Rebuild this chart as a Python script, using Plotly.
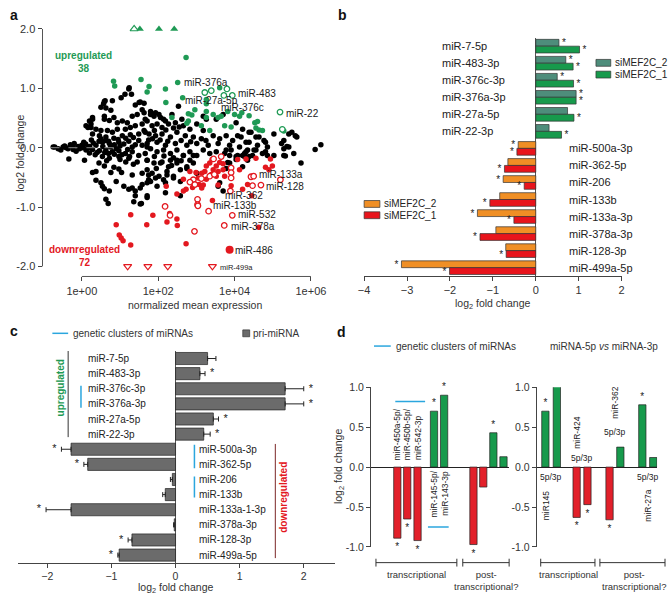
import plotly.graph_objects as go

W, H = 669, 600
FONT = "Liberation Sans, Arial, Helvetica, sans-serif"
INK = "#222222"
GREEN = "#1f9a55"
RED = "#e3181f"
BLUE = "#2ba6de"

# ---------------- a: MA plot  (log10 normalized mean expression, log2 fold change)
A_BLACK = [
    (1.23, 0.99), (1.13, 0.90), (1.03, 0.84), (0.80, 0.79), (0.61, 0.79), (0.57, 0.74), (0.50, 0.68),
    (0.63, 0.67), (0.76, 0.63), (1.40, 0.72), (1.53, 0.77), (1.58, 0.64), (1.45, 0.56), (0.28, 0.51),
    (0.20, 0.45), (0.59, 0.53), (0.59, 0.48), (0.72, 0.46), (0.84, 0.51), (0.93, 0.42), (1.06, 0.45),
    (1.19, 0.42), (1.32, 0.53), (0.11, 0.37), (0.24, 0.34), (0.37, 0.31), (0.50, 0.29), (0.67, 0.29),
    (0.80, 0.26), (0.93, 0.31), (1.14, 0.31), (1.27, 0.34), (1.40, 0.37), (1.58, 0.40), (1.66, 0.48),
    (0.28, 0.23), (0.46, 0.20), (0.63, 0.18), (0.84, 0.16), (1.06, 0.20), (1.27, 0.22), (1.49, 0.23),
    (1.66, 0.26), (0.54, 0.09), (0.72, 0.07), (0.97, 0.09), (1.23, 0.11), (1.49, 0.12), (1.75, 0.13),
    (1.63, 0.75), (1.24, 1.01), (1.30, 0.90), (1.50, 0.76), (0.59, 0.78), (0.28, 0.48), (0.24, 0.40),
    (0.16, 0.34),
    (-0.75, 0.01), (-0.71, 0.01), (-0.62, -0.02), (-0.49, 0.01), (-0.41, 0.00), (-0.36, -0.02),
    (-0.23, 0.01), (-0.23, -0.03), (-0.10, 0.02), (-0.06, -0.02), (0.03, 0.00), (0.11, -0.04),
    (0.20, 0.02), (0.28, -0.03), (0.37, 0.04), (0.46, -0.05), (0.63, -0.04), (0.80, -0.07),
    (0.97, -0.05), (1.14, -0.10), (1.32, -0.07), (1.32, 0.01), (1.49, -0.13), (1.58, 0.04),
    (1.66, -0.10), (0.10, 0.06), (0.30, 0.08), (0.45, 0.11), (0.62, 0.12), (0.85, 0.05), (1.00, 0.03),
    (1.10, 0.06), (1.40, 0.05), (0.55, 0.02), (0.75, 0.01), (0.90, -0.02), (1.20, -0.03), (0.40, -0.08),
    (0.70, -0.10), (1.05, -0.12), (1.25, -0.15), (-0.30, 0.05), (-0.15, -0.06), (0.00, 0.04), (0.15, -0.01),
    (-0.55, -0.04), (-0.45, 0.03), (-0.20, 0.07), (0.05, 0.09), (0.25, 0.13), (0.50, 0.15), (0.70, 0.11),
    (0.95, 0.14), (1.15, 0.16), (1.35, 0.17), (0.35, -0.12), (0.60, -0.08), (0.85, -0.11), (1.00, -0.20),
    (1.15, -0.24), (1.35, -0.28), (0.20, -0.09), (0.45, -0.26), (0.65, -0.22),
    (-0.34, -0.19), (0.07, -0.21), (0.54, -0.15), (0.72, -0.18), (0.97, -0.15), (1.23, -0.18),
    (1.45, -0.24), (1.71, -0.21), (0.59, -0.31), (0.84, -0.33), (0.97, -0.36), (0.76, -0.42),
    (1.04, -0.42), (0.37, -0.40), (0.28, -0.42), (1.32, -0.46), (1.58, -0.43), (1.75, -0.46),
    (0.37, -0.55), (0.50, -0.59), (0.54, -0.65), (0.59, -0.69), (0.72, -0.73), (0.90, -0.57),
    (1.10, -0.65), (1.32, -0.68), (1.40, -0.73), (1.58, -0.62), (1.75, -0.54), (0.63, -0.87),
    (0.69, -0.94), (1.36, -0.91), (1.56, -0.94), (1.71, -0.81), (1.53, -0.68), (1.40, -0.81),
    (1.53, -0.95), (1.23, -0.70),
    (2.53, 0.70), (1.63, 0.59), (1.80, 0.61), (1.89, 0.53), (2.02, 0.56), (2.14, 0.48), (1.71, 0.45),
    (1.84, 0.37), (1.97, 0.40), (2.10, 0.34), (2.27, 0.40), (2.45, 0.42), (2.62, 0.48), (2.66, 0.37),
    (2.83, 0.31), (3.01, 0.40), (3.18, 0.29), (1.63, 0.29), (1.76, 0.23), (1.93, 0.20), (2.10, 0.23),
    (2.32, 0.18), (2.49, 0.26), (2.71, 0.20), (2.92, 0.18), (3.13, 0.15), (3.44, 0.20), (3.61, 0.15),
    (3.78, 0.20), (3.95, 0.12), (4.17, 0.18), (1.71, 0.07), (1.97, 0.09), (2.19, 0.04), (2.45, 0.07),
    (2.75, 0.04), (3.01, 0.07), (3.31, 0.04), (3.57, 0.07), (3.87, 0.04), (4.13, 0.01), (4.30, 0.09),
    (1.80, 0.56), (1.93, 0.59), (2.06, 0.51), (2.19, 0.45), (2.36, 0.56), (3.18, 0.53), (3.26, 0.48),
    (3.52, 0.48), (3.70, 0.56), (4.04, 0.42), (4.21, 0.31), (4.08, 0.20), (4.43, 0.26), (4.64, 0.18),
    (4.81, 0.09), (1.85, 0.15), (2.05, 0.13), (2.25, 0.11), (2.60, 0.12), (2.85, 0.10), (3.25, 0.12),
    (1.90, 0.29), (2.20, 0.30), (2.40, 0.33), (2.55, 0.35),
    (1.71, 0.01), (1.80, -0.02), (1.97, -0.07), (2.14, -0.04), (2.32, -0.10), (2.49, -0.04),
    (2.66, -0.13), (2.83, -0.07), (3.01, -0.13), (3.18, -0.04), (3.35, -0.10), (3.52, -0.07),
    (3.74, -0.10), (3.91, -0.04), (4.08, -0.13), (4.26, -0.10), (1.71, -0.21), (1.89, -0.26),
    (2.10, -0.24), (2.27, -0.32), (2.49, -0.26), (2.75, -0.35), (2.92, -0.26), (3.01, -0.43),
    (1.71, -0.37), (1.84, -0.43), (2.02, -0.48), (2.23, -0.46), (2.40, -0.51), (2.58, -0.57),
    (1.80, -0.57), (1.97, -0.65), (2.19, -0.59), (3.61, -0.59), (3.57, -0.65), (3.82, -0.25),
    (4.04, -0.20), (4.21, -0.32), (1.71, -0.84), (2.19, -0.76), (2.58, -0.81), (4.34, -0.04),
    (4.56, -0.04), (4.21, -0.13), (4.04, -0.15), (3.87, -0.13), (3.78, -0.04), (4.38, -0.15),
    (2.06, -0.26), (2.23, -0.40), (2.40, -0.48), (2.58, -0.37), (2.75, -0.32), (2.83, -0.21),
    (2.92, -0.13), (2.66, -0.13), (2.49, -0.21), (2.32, -0.21), (2.14, -0.54), (1.93, -0.51),
    (1.71, -0.59), (3.78, -0.35), (3.87, -0.26), (3.70, -0.73), (1.90, -0.15), (2.15, -0.14),
    (2.40, -0.17), (2.60, -0.22), (1.95, -0.35), (2.35, -0.30),
    (4.38, 0.26), (4.56, 0.18), (4.77, 0.12), (5.03, 0.23), (4.86, 0.01), (4.60, 0.04), (4.38, 0.09),
    (4.30, -0.07), (4.51, -0.04), (4.73, -0.10), (4.81, -0.07), (4.47, -0.13), (4.26, -0.15),
    (4.34, -0.21), (5.29, 0.12), (5.23, 0.07), (5.29, -0.02), (5.37, 0.02), (5.42, 0.23), (5.50, 0.26),
    (5.59, 0.20), (5.63, 0.18), (5.29, -0.13), (5.33, -0.14), (5.55, -0.10), (5.74, -0.26),
    (6.11, -0.03), (6.26, 0.05), (5.42, 0.01), (5.03, -0.13), (4.86, -0.13),
]
A_GREEN = [
    (1.76, 1.03), (1.71, 0.94), (2.19, 0.99), (2.51, 1.10), (2.64, 0.84), (3.61, 1.01), (3.26, 0.81),
    (3.26, 0.74), (2.96, 0.64), (2.79, 0.57), (2.88, 0.55), (3.26, 0.61), (3.26, 0.51), (3.44, 0.56),
    (3.57, 0.51), (3.65, 0.53), (3.82, 0.61), (4.00, 0.56), (4.13, 0.53), (2.36, 0.51), (2.75, 0.41),
    (3.13, 0.37), (3.35, 0.29), (3.74, 0.37), (3.91, 0.35), (0.83, 1.12), (0.86, 1.04), (1.55, 1.15),
    (2.73, 1.52), (2.20, 0.76), (4.19, 0.59), (4.38, 0.54), (4.53, 0.42), (4.60, 0.44), (4.56, 0.33),
    (4.64, 0.30), (4.73, 0.29), (2.79, 0.45), (5.29, 0.28),
]
A_GREEN_OPEN = [(3.22, 0.93), (3.39, 0.96), (3.80, 0.99), (3.72, 0.88), (3.94, 0.88), (5.19, 0.60), (5.25, 0.31)]
A_RED = [
    (3.41, -0.20), (3.52, -0.31), (3.61, -0.25), (3.70, -0.27), (3.35, -0.26), (3.26, -0.31), (3.44, -0.37),
    (3.57, -0.40), (3.70, -0.37), (3.74, -0.48), (3.52, -0.48), (3.39, -0.45), (3.22, -0.40), (3.14, -0.43),
    (3.05, -0.51), (2.99, -0.42), (2.83, -0.40), (3.07, -0.62), (3.18, -0.63), (3.57, -0.63), (3.26, -0.53),
    (2.66, -0.53), (2.73, -0.70), (2.21, -0.65), (2.49, -0.78), (2.66, -0.73), (2.90, -0.67), (3.14, -0.68),
    (4.08, -0.20), (4.30, -0.19), (4.56, -0.18), (4.94, -0.19), (4.81, -0.33), (4.99, -0.31), (4.90, -0.37),
    (4.47, -0.48), (4.34, -0.62), (4.21, -0.70), (3.91, -0.64), (4.13, -0.37), (3.42, -0.89), (1.28, -1.13),
    (1.86, -1.14), (2.30, -1.11), (0.90, -1.30), (1.70, -1.30), (2.23, -1.25), (2.49, -1.20), (2.50, -1.31),
    (0.98, -1.47), (1.03, -1.52), (1.08, -1.57), (1.28, -1.64), (2.73, -1.62), (4.63, -1.34), (4.45, -0.81),
]
A_RED_OPEN = [
    (3.65, -0.15), (3.45, -0.19), (3.91, -0.34), (3.91, -0.42), (3.91, -0.51), (2.92, -0.54), (2.96, -0.62),
    (4.43, -0.49), (4.47, -0.64), (4.69, -0.63), (4.50, -0.48), (5.20, -0.54), (3.89, -0.73), (3.03, -0.87),
    (3.03, -0.96), (3.32, -1.07), (3.94, -1.14), (3.73, -1.31), (2.95, -1.41), (2.18, -0.99), (2.31, -1.14),
    (3.35, -0.48), (3.47, -0.45), (3.13, -0.52), (2.83, -0.58), (3.04, -0.98),
]
A_UP_CAP = [(1.52, 2.0), (2.02, 2.0), (2.42, 2.0)]      # clipped at +2
A_UP_CAP_OPEN = [(1.37, 2.0)]
A_DOWN_CAP_OPEN = [(1.20, -2.0), (1.73, -2.0), (2.25, -2.0), (3.42, -2.0)]  # clipped at -2
A_MIR486 = [(3.87, -1.72)]
# label anchors (log10 expression, log2FC) of the labelled text
A_LABELS = [
    ("miR-376a", 2.62, 1.10), ("miR-483", 4.03, 0.92), ("miR-27a-5p", 2.66, 0.80), ("miR-376c", 3.59, 0.68),
    ("miR-22", 5.29, 0.58), ("miR-133a", 4.60, -0.45), ("miR-128", 4.77, -0.66), ("miR-362", 3.70, -0.80),
    ("miR-133b", 3.39, -0.97), ("miR-532", 4.04, -1.13), ("miR-378a", 3.85, -1.32), ("miR-486", 3.96, -1.73),
]

# ---------------- b: siMEF2C miRNA changes
B_UP = ["miR-7-5p", "miR-483-3p", "miR-376c-3p", "miR-376a-3p", "miR-27a-5p", "miR-22-3p"]
B_UP_SI2 = [0.54, 0.70, 0.50, 0.94, 0.74, 0.31]
B_UP_SI1 = [1.02, 0.87, 0.88, 0.94, 0.89, 0.60]
B_UP_SIG2 = [1, 1, 1, 1, 0, 0]
B_UP_SIG1 = [1, 1, 1, 1, 1, 1]
B_DOWN = ["miR-500a-3p", "miR-362-5p", "miR-206", "miR-133b", "miR-133a-3p", "miR-378a-3p", "miR-128-3p", "miR-499a-5p"]
B_DOWN_SI2 = [-0.41, -0.65, -0.76, -0.84, -1.36, -0.93, -0.70, -3.13]
B_DOWN_SI1 = [-0.44, -0.73, -0.27, -1.07, -0.51, -1.30, -0.69, -2.01]
B_DOWN_SIG2 = [1, 0, 1, 0, 1, 0, 0, 1]
B_DOWN_SIG1 = [1, 1, 1, 1, 1, 1, 1, 1]

# ---------------- c: pri-miRNA
C_NAMES = ["miR-7-5p", "miR-483-3p", "miR-376c-3p", "miR-376a-3p", "miR-27a-5p", "miR-22-3p", "miR-500a-3p",
           "miR-362-5p", "miR-206", "miR-133b", "miR-133a-1-3p", "miR-378a-3p", "miR-128-3p", "miR-499a-5p"]
C_FC = [0.50, 0.38, 1.71, 1.71, 0.59, 0.44, -1.63, -1.37, -0.05, -0.16, -1.63, -0.02, -0.68, -0.88]
C_ERR = [0.13, 0.08, 0.29, 0.29, 0.08, 0.10, 0.15, 0.06, 0.03, 0.04, 0.39, 0.01, 0.06, 0.02]
C_SIG = [0, 1, 1, 1, 1, 1, 1, 1, 0, 0, 1, 0, 1, 1]

# ---------------- d: clusters / 5p vs 3p
D_LEFT_FC = [-0.89, -0.65, -0.92, 0.70, 0.90, -0.97, -0.25, 0.43, 0.13]
D_LEFT_SIG = [1, 1, 1, 1, 1, 1, 0, 1, 0]
D_RIGHT_FC = [0.70, 1.02, -0.63, -0.47, -0.66, 0.25, 0.78, 0.12]
D_RIGHT_SIG = [1, 1, 1, 1, 1, 0, 1, 0]
# bar slots on the (hidden) x axes
D_LEFT_POS = [0, 0.98, 2.0, 3.63, 4.63, 7.53, 8.5, 9.5, 10.5]
D_RIGHT_POS = [0, 1.04, 2.83, 3.81, 5.81, 6.79, 8.78, 9.77]


def X(p):
    return p / W


def Y(p):
    return 1 - p / H


annotations, shapes = [], []


def note(text, x, y, size=10, color=INK, xanchor="center", yanchor="middle", angle=0,
         xref="paper", yref="paper", **kw):
    if xref == "paper":
        x = X(x)
    if yref == "paper":
        y = Y(y)
    annotations.append(dict(text=text, x=x, y=y, xref=xref, yref=yref, showarrow=False,
                            xanchor=xanchor, yanchor=yanchor, textangle=angle,
                            font=dict(size=size, color=color, family=FONT), **kw))


def seg(x0, y0, x1, y1, color=INK, width=1, xref="paper", yref="paper", dash=None, layer="above"):
    if xref == "paper":
        x0, x1 = X(x0), X(x1)
    if yref == "paper":
        y0, y1 = Y(y0), Y(y1)
    shapes.append(dict(type="line", x0=x0, x1=x1, y0=y0, y1=y1, xref=xref, yref=yref, layer=layer,
                       line=dict(color=color, width=width, dash=dash)))


def box(x0, y0, x1, y1, fill):
    shapes.append(dict(type="rect", x0=X(x0), x1=X(x1), y0=Y(y0), y1=Y(y1), xref="paper", yref="paper",
                       fillcolor=fill, line=dict(color="#333", width=0.7)))


def unzip(pts):
    return [10 ** p[0] for p in pts], [p[1] for p in pts]


fig = go.Figure()

# ---- a
def a_points(pts, **marker):
    xs, ys = unzip(pts)
    fig.add_trace(go.Scatter(x=xs, y=ys, mode="markers", marker=marker, cliponaxis=False,
                             hoverinfo="skip", xaxis="x", yaxis="y"))


a_points(A_BLACK, color="black", size=5.5)
a_points(A_GREEN, color=GREEN, size=5.5)
a_points(A_GREEN_OPEN, color="white", size=5.5, line=dict(color=GREEN, width=1.3))
a_points(A_RED, color=RED, size=5.5)
a_points(A_RED_OPEN, color="white", size=5.5, line=dict(color=RED, width=1.3))
a_points(A_MIR486, color=RED, size=8)
a_points(A_UP_CAP, color=GREEN, size=7, symbol="triangle-up")
a_points(A_UP_CAP_OPEN, color="white", size=7, symbol="triangle-up", line=dict(color=GREEN, width=1.2))
a_points(A_DOWN_CAP_OPEN, color="white", size=7, symbol="triangle-down", line=dict(color=RED, width=1.2))

for name, lx, fc in A_LABELS:
    note(name, lx, fc, size=10, xanchor="left", xref="x", yref="y", color="#1a1a1a")
note("miR-499a", 3.57, -2.02, size=7.5, xanchor="left", xref="x", yref="y", color="#1a1a1a")
note("<b>upregulated<br>38</b>", 79, 57, size=10, color=GREEN)
note("<b>downregulated<br>72</b>", 80, 255, size=10, color=RED)
note("log2 fold change", 14, 150, size=10.5, angle=-90, color="#333")
note("normalized mean expression", 192, 305, size=10.5, color="#333")
seg(-2, 0, 6.6, 0, color="#8a8a8a", width=1, xref="x", yref="y", dash="dash")
seg(37, 0, 37, 0, color="#555")
shapes[-1].update(yref="y", y0=-2, y1=2)
seg(1, 276, 1e6, 276, color="#555", xref="x")

# ---- b
b_sets = [
    (B_UP, B_UP_SI2, B_UP_SIG2, "#4e8d7b", "g2"),
    (B_UP, B_UP_SI1, B_UP_SIG1, "#179a4c", "g1"),
    (B_DOWN, B_DOWN_SI2, B_DOWN_SIG2, "#f08f25", "g2"),
    (B_DOWN, B_DOWN_SI1, B_DOWN_SIG1, "#e8141c", "g1"),
]
for cats, vals, sig, color, grp in b_sets:
    fig.add_trace(go.Bar(y=cats, x=vals, orientation="h", offsetgroup=grp,
                         marker=dict(color=color, line=dict(color="#333", width=0.7)),
                         text=["*" if s else "" for s in sig], textposition="outside",
                         textfont=dict(size=10, color=INK, family=FONT), cliponaxis=False,
                         constraintext="none", hoverinfo="skip", xaxis="x2", yaxis="y2"))
for i, name in enumerate(B_UP):
    note(name, 440, i, size=11, xanchor="left", yref="y2")
for i, name in enumerate(B_DOWN):
    note(name, 569, i + len(B_UP), size=11, xanchor="left", yref="y2")
box(598, 54.5, 613, 61.5, "#4e8d7b")
box(598, 66.5, 613, 73.5, "#179a4c")
note("siMEF2C_2", 615, 58, size=10, xanchor="left")
note("siMEF2C_1", 615, 70, size=10, xanchor="left")
box(363, 198.5, 379, 205.5, "#f08f25")
box(363, 210, 379, 217, "#e8141c")
note("siMEF2C_2", 381, 202, size=10, xanchor="left")
note("siMEF2C_1", 381, 213.5, size=10, xanchor="left")
note("log<sub>2</sub> fold change", 493, 304, size=10.5, color="#333")

# ---- c
fig.add_trace(go.Bar(
    y=C_NAMES, x=C_FC, orientation="h", marker=dict(color="#6b6b6b", line=dict(color="#222", width=0.7)),
    error_x=dict(type="data", symmetric=False, array=[e if v > 0 else 0 for v, e in zip(C_FC, C_ERR)],
                 arrayminus=[e if v < 0 else 0 for v, e in zip(C_FC, C_ERR)], color=INK, thickness=1, width=2.5),
    hoverinfo="skip", xaxis="x3", yaxis="y3"))
c_star = [(v + (e + 0.11) * (1 if v > 0 else -1), n) for v, e, n, s in zip(C_FC, C_ERR, C_NAMES, C_SIG) if s]
fig.add_trace(go.Scatter(x=[p[0] for p in c_star], y=[p[1] for p in c_star], mode="text", text=["*"] * len(c_star),
                         textfont=dict(size=11, color=INK, family=FONT), cliponaxis=False, hoverinfo="skip",
                         xaxis="x3", yaxis="y3"))
for i, name in enumerate(C_NAMES):
    note(name, 81 if i < 6 else 194, i, size=10, xanchor="left", yref="y3")
seg(63, -0.5, 63, 5.2, color="#333", yref="y3")
seg(76, 1.8, 76, 3.25, color=BLUE, width=1.5, yref="y3")
seg(191, 5.7, 191, 7.25, color=BLUE, width=1.5, yref="y3")
seg(191, 7.8, 191, 9.2, color=BLUE, width=1.5, yref="y3")
seg(273, 5.65, 273, 13.2, color="#7b2626", yref="y3")
note("<b>upregulated</b>", 55, 1.96, size=10, angle=-90, color=GREEN, yref="y3")
note("<b>downregulated</b>", 281, 9.2, size=10, angle=-90, color=RED, yref="y3")
seg(47, 334, 63, 334, color=BLUE, width=1.5)
note("genetic clusters of miRNAs", 66, 334, size=10, xanchor="left", color="#333")
box(240, 330.5, 247, 337.5, "#6b6b6b")
note("pri-miRNA", 248, 334, size=10, xanchor="left", color="#333")
note("log<sub>2</sub> fold change", 172, 594, size=10.5, color="#333")

# ---- d
for pos, vals, sig, w, xa, ya in [(D_LEFT_POS, D_LEFT_FC, D_LEFT_SIG, 0.72, "x4", "y4"),
                                  (D_RIGHT_POS, D_RIGHT_FC, D_RIGHT_SIG, 0.66, "x5", "y5")]:
    fig.add_trace(go.Bar(x=pos, y=vals, width=w,
                         marker=dict(color=["#179a4c" if v > 0 else "#e2202a" for v in vals],
                                     line=dict(color="#222", width=0.7)),
                         text=["*" if s else "" for s in sig], textposition="outside",
                         textfont=dict(size=10, color=INK, family=FONT), cliponaxis=False,
                         constraintext="none", hoverinfo="skip", xaxis=xa, yaxis=ya))

for k, name in enumerate(["miR-450a-5p/", "miR-450b-5p/", "miR-542-3p"]):
    note(name, D_LEFT_POS[k], 0, size=8.5, angle=-90, yanchor="bottom", xref="x4", yref="y4", yshift=5)
for k, name in zip([3, 4], ["miR-145-5p/", "miR-143-3p"]):
    note(name, D_LEFT_POS[k], 0, size=8.5, angle=-90, yanchor="top", xref="x4", yref="y4", yshift=-2)
for k, name in zip([5, 6, 7, 8], ["miR-668-3p/", "miR-485-3p/", "miR-134-5p/", "miR-323b-3p"]):
    note(name, D_LEFT_POS[k], 1.21, size=8.5, angle=-90, yanchor="top", xref="x4", yref="y4")
seg(D_LEFT_POS[0] - 0.2, 0.82, D_LEFT_POS[2] + 0.75, 0.82, color=BLUE, width=1.5, xref="x4", yref="y4")
seg(D_LEFT_POS[3] - 0.6, -0.75, D_LEFT_POS[4] + 0.45, -0.75, color=BLUE, width=1.5, xref="x4", yref="y4")
seg(D_LEFT_POS[5] - 0.6, 1.235, D_LEFT_POS[8] + 0.55, 1.235, color=BLUE, width=1.5, xref="x4", yref="y4")

note("5p/3p", (D_RIGHT_POS[0] + D_RIGHT_POS[1]) / 2, -0.13, size=8.5, xref="x5", yref="y5")
note("miR145", D_RIGHT_POS[0], -0.26, size=8.5, angle=-90, yanchor="top", xref="x5", yref="y5")
note("miR-424", D_RIGHT_POS[2], 0.20, size=8.5, angle=-90, yanchor="bottom", xref="x5", yref="y5")
note("5p/3p", (D_RIGHT_POS[2] + D_RIGHT_POS[3]) / 2, 0.11, size=8.5, xref="x5", yref="y5")
note("miR-362", (D_RIGHT_POS[4] + D_RIGHT_POS[5]) / 2, 0.58, size=8.5, angle=-90, yanchor="bottom",
     xref="x5", yref="y5")
note("5p/3p", (D_RIGHT_POS[4] + D_RIGHT_POS[5]) / 2, 0.44, size=8.5, xref="x5", yref="y5")
note("5p/3p", (D_RIGHT_POS[6] + D_RIGHT_POS[7]) / 2, -0.13, size=8.5, xref="x5", yref="y5")
note("miR-27a", (D_RIGHT_POS[6] + D_RIGHT_POS[7]) / 2, -0.26, size=8.5, angle=-90, yanchor="top",
     xref="x5", yref="y5")

seg(373, 347, 390, 347, color=BLUE, width=1.5)
note("genetic clusters of miRNAs", 393, 347, size=10, xanchor="left", color="#333")
note("miRNA-5p <i>vs</i> miRNA-3p", 606, 347, size=10, color="#333")
note("log<sub>2</sub> fold change", 337, 470, size=10.5, angle=-90, color="#333")
for x0, x1 in [(375, 457), (463, 510), (542, 597), (602, 668)]:
    seg(x0, 568, x1, 568, color="#333")
    seg(x0, 564, x0, 572, color="#333")
    seg(x1, 564, x1, 572, color="#333")
note("transcriptional", 416, 580, size=9.5, color="#333")
note("post-<br>transcriptional?", 487, 586, size=9.5, color="#333")
note("transcriptional", 570, 580, size=9.5, color="#333")
note("post-<br>transcriptional?", 637, 586, size=9.5, color="#333")

# panel letters
for letter, x, y in [("a", 8, 9), ("b", 341, 9), ("c", 8, 332), ("d", 340, 333)]:
    note("<b>%s</b>" % letter, x, y, size=14, color="#111")

tick = dict(ticks="outside", ticklen=4, tickcolor="#444", showgrid=False, zeroline=False,
            tickfont=dict(size=11, color="#333", family=FONT))
small_tick = {**tick, "zeroline": True, "tickfont": dict(size=10.5, color="#333", family=FONT)}
fig.update_layout(
    width=W, height=H, margin=dict(l=0, r=0, t=0, b=0), showlegend=False,
    paper_bgcolor="white", plot_bgcolor="white", barmode="group", bargap=0.2,
    font=dict(family=FONT, color=INK),
    xaxis=dict(type="log", range=[-1.03, 6.54], domain=[X(37), X(330)], anchor="y",
               tickvals=[1, 1e2, 1e4, 1e6], ticktext=["1e+00", "1e+02", "1e+04", "1e+06"], **tick),
    yaxis=dict(range=[-2.17, 2.09], domain=[Y(276), Y(18)], anchor="x",
               tickvals=[-2, -1, 0, 1, 2], ticktext=["-2.0", "-1.0", "0.0", "1.0", "2.0"], **tick),
    xaxis2=dict(range=[-4, 2], domain=[X(363), X(624)], anchor="y2", tickvals=list(range(-4, 3)),
                showline=True, linecolor="#444", **{**tick, "zeroline": True}, zerolinecolor="#555",
                zerolinewidth=1),
    yaxis2=dict(type="category", categoryorder="array", categoryarray=B_UP + B_DOWN, range=[13.5, -0.5],
                domain=[Y(275.7), Y(32.3)], anchor="x2", visible=False),
    xaxis3=dict(range=[-2.46, 2.48], domain=[X(12), X(333)], anchor="y3", tickvals=[-2, -1, 0, 1, 2],
                showline=True, linecolor="#444", **small_tick, zerolinecolor="#555", zerolinewidth=1),
    yaxis3=dict(type="category", categoryorder="array", categoryarray=C_NAMES, range=[13.5, -0.5],
                domain=[Y(568), Y(352)], anchor="x3", visible=False),
    xaxis4=dict(range=[-2.6, 11.06], domain=[X(370), X(510)], anchor="y4", visible=False),
    yaxis4=dict(range=[-1, 1], domain=[Y(552), Y(389)], anchor="x4", showline=True, linecolor="#444",
                tickvals=[-1, -0.5, 0, 0.5, 1], ticktext=["-1.0", "-0.5", "0.0", "0.5", "1.0"],
                **small_tick, zerolinecolor="#222", zerolinewidth=1),
    xaxis5=dict(range=[-0.78, 10.12], domain=[X(538), X(660)], anchor="y5", visible=False),
    yaxis5=dict(range=[-1, 1], domain=[Y(552), Y(389)], anchor="x5", showline=True, linecolor="#444",
                tickvals=[-1, -0.5, 0, 0.5, 1], ticktext=["-1.0", "-0.5", "0.0", "0.5", "1.0"],
                **small_tick, zerolinecolor="#222", zerolinewidth=1),
    annotations=annotations, shapes=shapes,
)

# page margin off so the 669x600 figure sits at the window origin; no modebar
fig.write_html("out.html", config={"displayModeBar": False},
               post_script="document.body.style.margin='0px';")
